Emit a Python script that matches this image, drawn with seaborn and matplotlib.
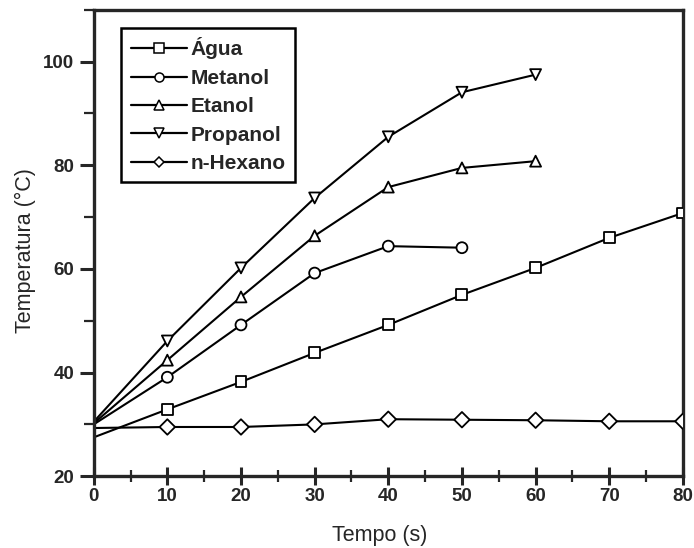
import numpy as np
import pandas as pd
import matplotlib
matplotlib.use("Agg")
import matplotlib.pyplot as plt
from matplotlib.ticker import MultipleLocator
from matplotlib.lines import Line2D
import seaborn as sns

# --- dados ---
tempo = [0, 10, 20, 30, 40, 50, 60, 70, 80]
agua = [27.5, 32.9, 38.2, 43.8, 49.2, 55.0, 60.2, 66.0, 70.8]
metanol = [30.0, 39.1, 49.2, 59.2, 64.4, 64.1]
etanol = [30.2, 42.4, 54.6, 66.4, 75.8, 79.5, 80.8]
propanol = [30.5, 46.1, 60.2, 73.7, 85.5, 94.1, 97.5]
hexano = [29.3, 29.5, 29.5, 30.0, 31.0, 30.9, 30.8, 30.6, 30.6]

series = {
    "Água": agua,
    "Metanol": metanol,
    "Etanol": etanol,
    "Propanol": propanol,
    "n-Hexano": hexano,
}
marcadores = {"Água": "s", "Metanol": "o", "Etanol": "^", "Propanol": "v", "n-Hexano": "D"}

linhas = []
for nome, vals in series.items():
    for t, v in zip(tempo, vals):
        linhas.append({"Tempo": t, "Temp": v, "Amostra": nome})
df = pd.DataFrame(linhas)

sns.set_style("ticks")
plt.rcParams["font.family"] = ["Liberation Sans", "DejaVu Sans"]

fig = plt.figure(figsize=(6.94, 5.48), dpi=100)
ax = fig.add_axes([0.135, 0.131, 0.849, 0.851])

ordem = list(series.keys())
paleta = {k: "black" for k in ordem}

# linhas (sem marcador no t=0)
sns.lineplot(data=df, x="Tempo", y="Temp", hue="Amostra", units="Amostra",
             estimator=None, palette=paleta, hue_order=ordem, lw=1.5,
             legend=False, ax=ax, sort=True)

# marcadores abertos
pts = df[df["Tempo"] > 0]
sns.scatterplot(data=pts, x="Tempo", y="Temp", style="Amostra", style_order=ordem,
                markers=marcadores, color="white", edgecolor="black",
                linewidth=1.3, s=62, legend=False, ax=ax, zorder=3)

# legenda com linha-marcador-linha
handles = []
for nome in ordem:
    ms = 6.5 if marcadores[nome] != "D" else 5.5
    handles.append(Line2D([0], [0], color="black", lw=1.6, marker=marcadores[nome],
                          markerfacecolor="white", markeredgecolor="black",
                          markersize=ms, markeredgewidth=1.1))
leg = ax.legend(handles, ordem, loc="upper left", bbox_to_anchor=(0.047, 0.961),
                frameon=True, fancybox=False, edgecolor="black", framealpha=1,
                prop={"weight": "bold", "size": 15}, handlelength=2.7,
                handletextpad=0.15, labelspacing=0.45, borderpad=0.45,
                borderaxespad=0)
leg.get_frame().set_linewidth(1.8)

ax.set_xlim(0, 80)
ax.set_ylim(20, 110)
ax.xaxis.set_major_locator(MultipleLocator(10))
ax.xaxis.set_minor_locator(MultipleLocator(5))
ax.yaxis.set_minor_locator(MultipleLocator(10))
ax.set_yticks([20, 40, 60, 80, 100])

for s in ax.spines.values():
    s.set_linewidth(2.4)
ax.tick_params(axis="y", which="major", direction="out", length=10, width=2.2,
               labelsize=13.5, pad=4)
ax.tick_params(axis="y", which="minor", direction="out", length=7, width=1.6)
ax.tick_params(axis="x", which="major", direction="inout", length=13, width=2.2,
               labelsize=13.5, pad=2)
ax.tick_params(axis="x", which="minor", direction="inout", length=9, width=1.6)
for lab in ax.get_xticklabels() + ax.get_yticklabels():
    lab.set_fontweight("bold")

ax.set_xlabel("Tempo (s)", fontsize=15.5)
ax.set_ylabel("Temperatura (°C)", fontsize=15.5)
ax.xaxis.set_label_coords(0.486, -0.105)
ax.yaxis.set_label_coords(-0.098, 0.483)

fig.savefig("out.png", dpi=100)
